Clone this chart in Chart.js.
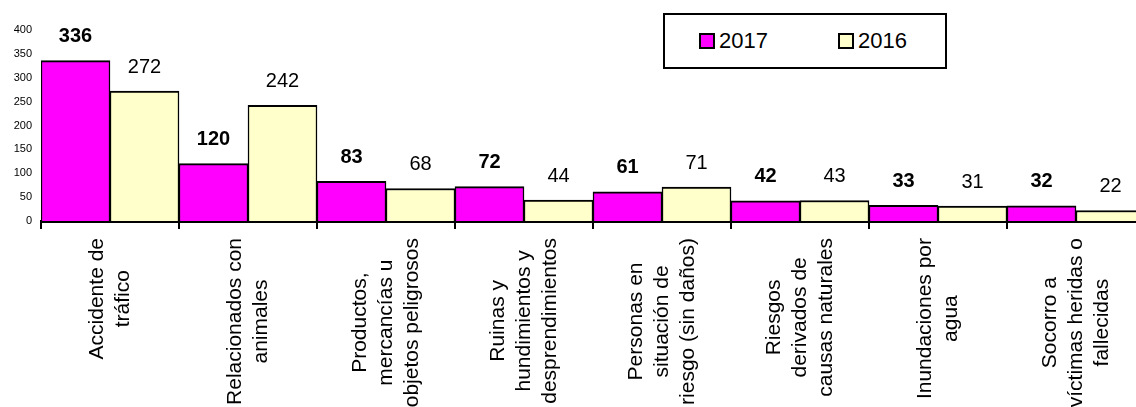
<!DOCTYPE html>
<html>
<head>
<meta charset="utf-8">
<script src="https://cdn.jsdelivr.net/npm/chart.js@4.4.0/dist/chart.umd.min.js"></script>
<style>
    html, body { margin: 0; padding: 0; background: #fff; overflow: hidden; }
    #wrap { position: relative; width: 1150px; height: 407px; }
    #legend {
        position: absolute; left: 663px; top: 13px; width: 284px; height: 56px;
        box-sizing: border-box; border: 2px solid #000; background: #fff;
        display: flex; align-items: center; padding-left: 34px;
        font-family: "Liberation Sans", Arial, sans-serif; font-size: 22px; color: #000;
    }
    .item { display: flex; align-items: center; margin-right: 70px; }
    .swatch { width: 16px; height: 16px; box-sizing: border-box; border: 2px solid #000; margin-right: 4px; }
</style>
</head>
<body>
<div id="wrap">
    <canvas id="chart"></canvas>
    <div id="legend"></div>
</div>
<script>
const categories = [
    ['Accidente de', 'tráfico'],
    ['Relacionados con', 'animales'],
    ['Productos,', 'mercancías u', 'objetos peligrosos'],
    ['Ruinas y', 'hundimientos y', 'desprendimientos'],
    ['Personas en', 'situación de', 'riesgo (sin daños)'],
    ['Riesgos', 'derivados de', 'causas naturales'],
    ['Inundaciones por', 'agua'],
    ['Socorro a', 'víctimas heridas o', 'fallecidas']
];
const seriesNames = ['2017', '2016'];
const values2017 = [336, 120, 83, 72, 61, 42, 33, 32];
const values2016 = [272, 242, 68, 44, 71, 43, 31, 22];
const yTicks = [0, 50, 100, 150, 200, 250, 300, 350, 400];

const FONT = '"Liberation Sans", Arial, sans-serif';

// rotated category labels, lines centred like the original
const categoryLabels = {
    id: 'categoryLabels',
    afterDraw(chart) {
        const ctx = chart.ctx;
        const xScale = chart.scales.x;
        const top = xScale.top + 17;
        const lineH = 26;
        ctx.save();
        ctx.font = '21px ' + FONT;
        ctx.fillStyle = '#000';
        ctx.textAlign = 'center';
        ctx.textBaseline = 'middle';
        categories.forEach((lines, i) => {
            const x = xScale.getPixelForValue(i);
            const maxW = Math.max(...lines.map(l => ctx.measureText(l).width));
            ctx.save();
            ctx.translate(x, top + maxW / 2);
            ctx.rotate(-Math.PI / 2);
            lines.forEach((line, j) => {
                ctx.fillText(line, 0, (j - (lines.length - 1) / 2) * lineH);
            });
            ctx.restore();
        });
        ctx.restore();
    }
};

// value labels above the bars
const valueLabels = {
    id: 'valueLabels',
    afterDatasetsDraw(chart) {
        const ctx = chart.ctx;
        ctx.save();
        ctx.fillStyle = '#000';
        ctx.textAlign = 'center';
        ctx.textBaseline = 'middle';
        chart.data.datasets.forEach((ds, di) => {
            ctx.font = (di === 0 ? 'bold ' : '') + '20px ' + FONT;
            chart.getDatasetMeta(di).data.forEach((bar, i) => {
                ctx.fillText(ds.data[i], bar.x, bar.y - 24);
            });
        });
        ctx.restore();
    }
};

const chart = new Chart(document.getElementById('chart'), {
    type: 'bar',
    data: {
        labels: categories,
        datasets: [{
            label: seriesNames[0],
            data: values2017,
            backgroundColor: '#FF00FF',
            borderColor: '#000',
            borderWidth: { top: 2, left: 1.5, right: 1.5, bottom: 0 },
            borderSkipped: false,
            categoryPercentage: 1,
            barPercentage: 1
        }, {
            label: seriesNames[1],
            data: values2016,
            backgroundColor: '#FFFFCC',
            borderColor: '#000',
            borderWidth: { top: 2, left: 1.5, right: 1.5, bottom: 0 },
            borderSkipped: false,
            categoryPercentage: 1,
            barPercentage: 1
        }]
    },
    options: {
        responsive: true,
        maintainAspectRatio: false,
        animation: false,
        layout: { padding: { top: 30, right: 5, left: 0, bottom: 0 } },
        plugins: {
            legend: { display: false },
            tooltip: { enabled: false }
        },
        scales: {
            x: {
                offset: true,
                ticks: { display: false },
                grid: {
                    offset: true,
                    drawOnChartArea: false,
                    drawTicks: true,
                    tickLength: 8,
                    color: '#000',
                    lineWidth: 2
                },
                border: { display: true, color: '#000', width: 3 },
                afterFit(scale) { scale.height = 186; }
            },
            y: {
                min: 0,
                max: 400,
                afterBuildTicks(scale) { scale.ticks = yTicks.map(v => ({ value: v })); },
                ticks: {
                    padding: 9,
                    color: '#000',
                    font: { family: FONT, size: 11 }
                },
                grid: { display: false, drawTicks: false },
                border: { display: false },
                afterFit(scale) { scale.width = 41; }
            }
        }
    },
    plugins: [categoryLabels, valueLabels]
});

// legend box built from the datasets
const legend = document.getElementById('legend');
chart.data.datasets.forEach(ds => {
    const item = document.createElement('div');
    item.className = 'item';
    const sw = document.createElement('span');
    sw.className = 'swatch';
    sw.style.background = ds.backgroundColor;
    const txt = document.createElement('span');
    txt.textContent = ds.label;
    item.appendChild(sw);
    item.appendChild(txt);
    legend.appendChild(item);
});
</script>
</body>
</html>
